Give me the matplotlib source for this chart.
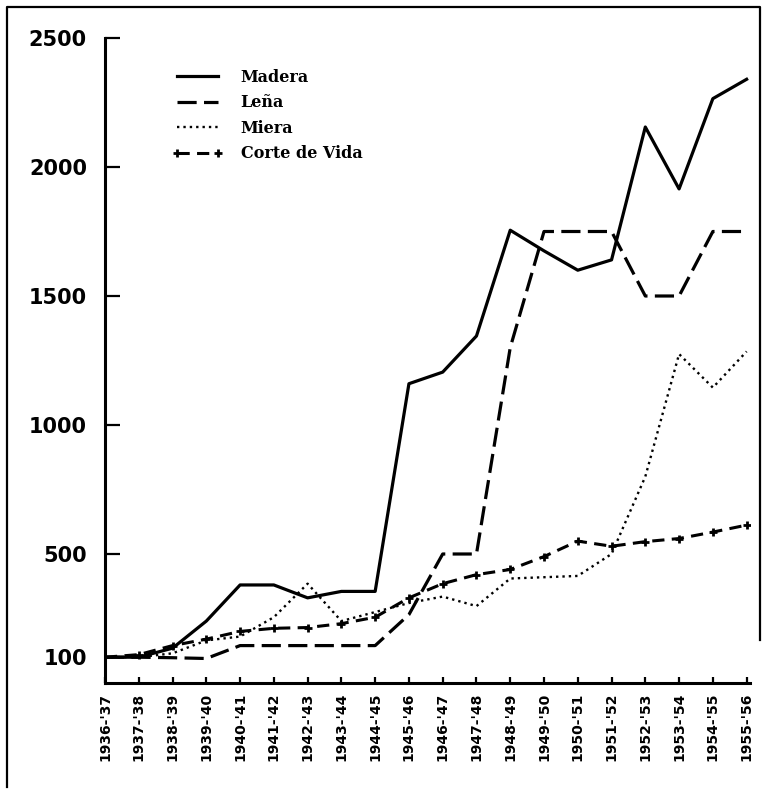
import matplotlib
matplotlib.use('Agg')
import matplotlib.pyplot as plt
from matplotlib.lines import Line2D

# campañas forestales, indices base 1936-37 = 100
campanas = ['1936-\'37', '1937-\'38', '1938-\'39', '1939-\'40', '1940-\'41',
            '1941-\'42', '1942-\'43', '1943-\'44', '1944-\'45', '1945-\'46',
            '1946-\'47', '1947-\'48', '1948-\'49', '1949-\'50', '1950-\'51',
            '1951-\'52', '1952-\'53', '1953-\'54', '1954-\'55', '1955-\'56']

madera = [100, 100, 135, 240, 380, 380, 330, 355, 355, 1160,
          1205, 1345, 1755, 1675, 1600, 1640, 2155, 1915, 2265, 2340]
lena = [100, 100, 98, 95, 145, 145, 145, 145, 145, 265,
        500, 500, 1300, 1750, 1750, 1750, 1500, 1500, 1750, 1750]
miera = [100, 100, 115, 165, 180, 255, 385, 240, 275, 310,
         335, 298, 405, 410, 415, 500, 800, 1275, 1145, 1285]
corte_vida = [100, 110, 145, 170, 200, 212, 215, 230, 255, 330,
              385, 420, 440, 490, 550, 530, 548, 560, 585, 612]

yticks = [100, 500, 1000, 1500, 2000, 2500]

W, H = 765, 794
fig = plt.figure(figsize=(W / 100, H / 100), dpi=100)
ax = fig.add_axes([105 / W, 1 - 683 / H, 645 / W, 645 / H])

x = list(range(len(campanas)))
ax.plot(x, madera, color='black', lw=2.3, ls='-', label='Madera')
ax.plot(x, lena, color='black', lw=2.3, ls=(0, (6, 2.3)), label='Leña')
ax.plot(x, miera, color='black', lw=1.7, ls=(0, (1, 1.7)), label='Miera')
ax.plot(x, corte_vida, color='black', lw=2.2, ls=(0, (4, 2.4)),
        marker='+', markersize=6, markeredgewidth=2.0, label='Corte de Vida')

ax.set_xlim(0, 19.1)
ax.set_ylim(0, 2500)

for s in ['top', 'right']:
    ax.spines[s].set_visible(False)
for s in ['left', 'bottom']:
    ax.spines[s].set_linewidth(2.2)

ax.set_yticks(yticks)
ax.set_yticklabels([str(v) for v in yticks], fontsize=15, fontweight='bold',
                   family='DejaVu Sans')
ax.tick_params(axis='y', direction='in', length=11, width=1.6, pad=13)

ax.set_xticks(x)
ax.set_xticklabels(campanas, rotation=90, fontsize=10, fontweight='bold',
                   family='DejaVu Sans')
ax.tick_params(axis='x', direction='in', length=4, width=1.6, pad=7)

leg = ax.legend(loc='upper left', bbox_to_anchor=(172 / W, 1 - 69 / H),
                bbox_transform=fig.transFigure, frameon=False,
                borderpad=0, borderaxespad=0, handlelength=3.2,
                handletextpad=1.1, labelspacing=0.53, numpoints=2,
                prop={'family': 'DejaVu Serif', 'weight': 'bold', 'size': 11.5})

# marco exterior de la figura
fx = [7 / W, 7 / W, 760 / W, 760 / W]
fy = [1 - 787 / H, 1 - 7 / H, 1 - 7 / H, 1 - 640 / H]
fig.add_artist(Line2D(fx, fy, transform=fig.transFigure, color='black', lw=1.6))

fig.savefig('out.png', dpi=100)
